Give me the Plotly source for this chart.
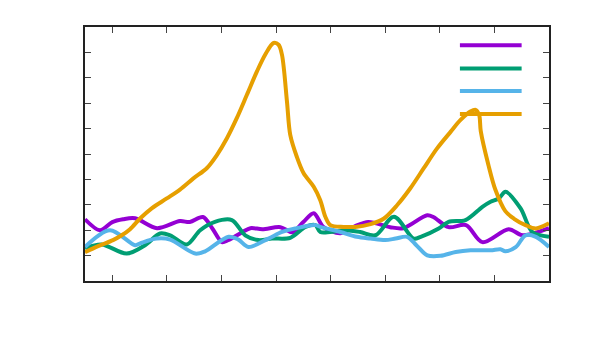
import plotly.graph_objects as go

# ---- data ----
purple_x = [-5, -2.26, 0, 1.96, 4.17, 8.2, 12.4, 14.2, 16.6, 18.3, 20.1, 21.2, 23.8, 25.3, 27.5,
            30.8, 32.98, 35.0, 36.9, 38.7, 41.8, 44.5, 46.9, 50.9, 53.3, 57.7, 58.9, 61.6, 64.8,
            67.8, 72.6, 75.2, 80]
purple_y = [2.43, 2.00, 2.32, 2.43, 2.47, 2.08, 2.36, 2.32, 2.52, 2.08, 1.53, 1.61, 1.92, 2.08, 2.04,
            2.12, 1.92, 2.32, 2.67, 2.12, 1.88, 2.16, 2.32, 2.12, 2.08, 2.59, 2.51, 2.12, 2.20,
            1.53, 2.04, 1.80, 2.08]

green_x = [-5, -1.94, 2.64, 6.0, 8.75, 10.6, 13.65, 16.1, 18.8, 21.9, 24.35, 26.8, 29.25, 32.6,
           35.4, 37.2, 38.1, 39.9, 42.7, 45.4, 48.2, 51.6, 55.2, 56.5, 59.8, 61.6, 64.7, 67.8,
           69.3, 70.8, 72.05, 74.8, 76.95, 80]
green_y = [1.29, 1.44, 1.08, 1.41, 1.87, 1.80, 1.44, 2.00, 2.33, 2.40, 1.80, 1.61, 1.67, 1.70,
           2.13, 2.20, 1.93, 1.93, 2.00, 1.93, 1.80, 2.53, 1.67, 1.74, 2.07, 2.33, 2.40, 2.92,
           3.12, 3.25, 3.51, 2.86, 1.93, 1.74]

blue_x = [-5, -0.42, 4.17, 5.1, 8.15, 10.6, 15.2, 17.0, 21.3, 23.1, 24.95, 28.6, 31.1, 33.5, 37.2,
          38.1, 41.8, 44.8, 47.3, 50.0, 51.9, 54.0, 55.7, 57.7, 60.1, 62.9, 65.6, 69.3, 71.1, 72.0,
          73.9, 75.7, 77.6, 80]
blue_y = [1.34, 2.00, 1.41, 1.48, 1.67, 1.63, 1.08, 1.17, 1.74, 1.63, 1.34, 1.67, 1.93, 2.07, 2.20,
          2.13, 1.93, 1.74, 1.67, 1.61, 1.67, 1.74, 1.41, 1.01, 0.99, 1.14, 1.21, 1.21, 1.25, 1.17,
          1.33, 1.80, 1.74, 1.34]

orange_x = [-5, -2.6, 0.13, 1.72, 3.25, 5.08, 7.28, 9.98, 12.4, 14.86, 17.3, 19.16, 21.0, 22.8,
            24.66, 26.5, 28.0, 29.54, 30.46, 31.08, 32.0, 32.6, 33.8, 35.05, 36.9, 38.1, 39.03,
            39.95, 42.4, 44.5, 47.3, 49.7, 52.2, 54.6, 57.06, 59.5, 62.0, 63.8, 65.6, 66.55, 67.2,
            67.5, 68.9, 70.2, 72.0, 73.6, 75.7, 77.6, 80]
orange_y = [1.13, 1.37, 1.61, 1.80, 2.04, 2.46, 2.87, 3.25, 3.60, 4.04, 4.44, 4.96, 5.62, 6.41,
            7.33, 8.25, 8.91, 9.37, 9.30, 8.91, 7.06, 5.75, 4.89, 4.24, 3.71, 3.18, 2.53,
            2.20, 2.13, 2.13, 2.24, 2.45, 2.99, 3.65, 4.44, 5.22, 5.88, 6.34, 6.67, 6.74, 6.54,
            5.90, 4.57, 3.58, 2.75, 2.45, 2.20, 2.07, 2.27]

series = [
    ("", purple_x, purple_y, "#9400D3"),
    ("", green_x, green_y, "#009E73"),
    ("", blue_x, blue_y, "#56B4E9"),
    ("", orange_x, orange_y, "#E69F00"),
]

fig = go.Figure()
for name, xs, ys, col in series:
    fig.add_trace(go.Scatter(x=xs, y=ys, mode="lines", name=name, showlegend=False,
                             line=dict(color=col, width=4, shape="spline", smoothing=0.9)))

# legend samples (no titles in the reference)
leg_y = [0.928, 0.837, 0.748, 0.657]
for (name, xs, ys, col), ly in zip(series, leg_y):
    fig.add_shape(type="line", xref="paper", yref="paper", x0=0.808, x1=0.941, y0=ly, y1=ly,
                  line=dict(color=col, width=4))

axis_common = dict(showgrid=False, zeroline=False, showticklabels=False, showline=True,
                   linecolor="#222222", linewidth=1.5, mirror="ticks", ticks="inside",
                   ticklen=6, tickcolor="#444444", tickwidth=1)
fig.update_xaxes(range=[-5, 80], tick0=0, dtick=10, **axis_common)
fig.update_yaxes(range=[0, 10], tick0=0, dtick=1, **axis_common)

fig.update_layout(width=590, height=355, margin=dict(l=85, r=41, t=27, b=74),
                  paper_bgcolor="white", plot_bgcolor="white")
fig.write_html("out.html")
